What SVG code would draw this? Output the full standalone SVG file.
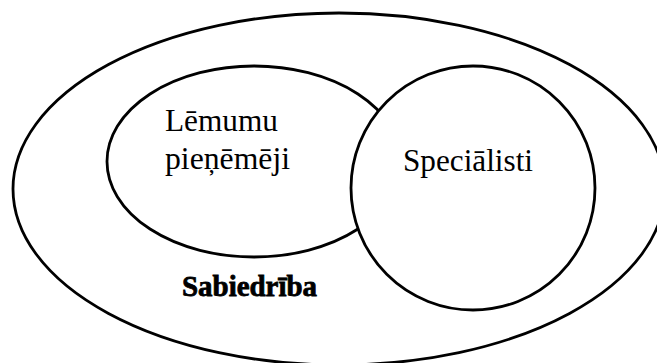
<svg xmlns="http://www.w3.org/2000/svg" width="657" height="363" viewBox="0 0 657 363">
<style>
.shape{fill:#fff;stroke:#000;stroke-width:2.8}
.lbl{font-family:"Liberation Serif","Times New Roman",serif;font-size:31px;fill:#000}
.bold{font-weight:bold;font-size:30px;stroke:#000;stroke-width:0.8}
</style>
<rect width="657" height="363" fill="#fff"/>
<g id="sabiedriba">
<ellipse class="shape" cx="339" cy="189" rx="326" ry="176"/>
<text class="lbl bold" x="182" y="296" textLength="135" lengthAdjust="spacingAndGlyphs">Sabiedrība</text>
</g>
<g id="lemumu-pienemeji">
<ellipse class="shape" cx="254" cy="161.5" rx="147" ry="95.5"/>
<text class="lbl" x="165" y="131" textLength="113" lengthAdjust="spacingAndGlyphs">Lēmumu</text>
<text class="lbl" x="165" y="169" textLength="125" lengthAdjust="spacingAndGlyphs">pieņēmēji</text>
</g>
<g id="specialisti">
<circle class="shape" cx="473" cy="188" r="122"/>
<text class="lbl" x="403" y="171" textLength="130" lengthAdjust="spacingAndGlyphs">Speciālisti</text>
</g>
<g id="connectors"></g>
</svg>
